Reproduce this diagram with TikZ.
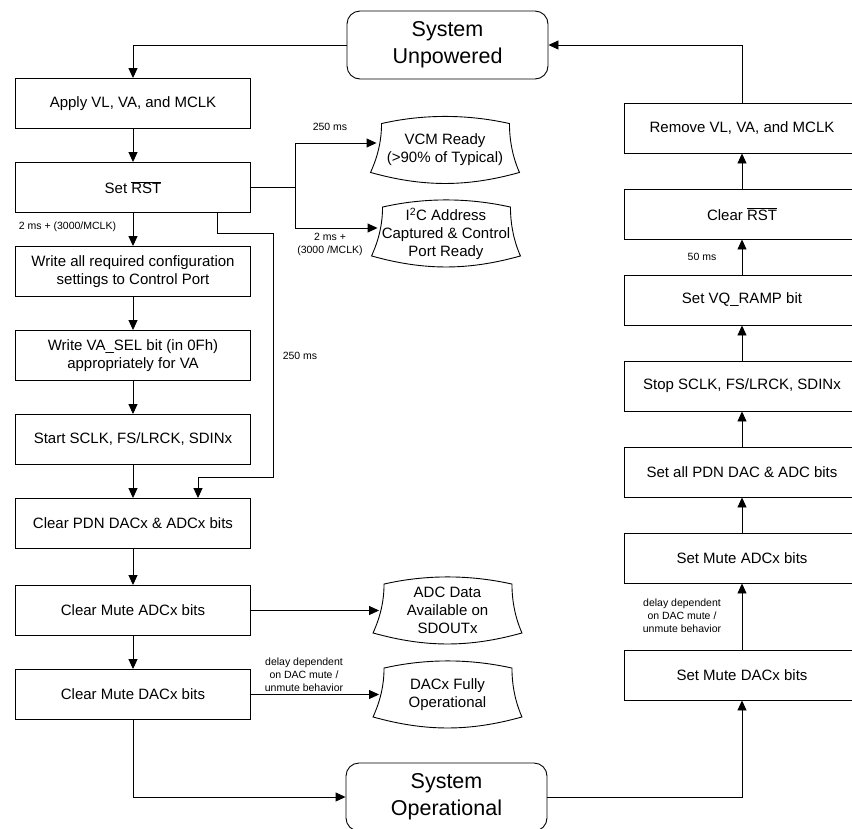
\documentclass[tikz,border=0pt]{standalone}
\usepackage{fontspec}
\setmainfont{Liberation Sans}
\usepackage{tikz}
\usetikzlibrary{shapes,arrows.meta,calc}
\tikzstyle{block}    = [rectangle,
                        draw,
                        align=center,
                        minimum width=235pt,
                        minimum height=50pt,
                        inner sep=2pt,
                        font=\fontsize{15}{18}\selectfont]
\tikzstyle{sysstate} = [rectangle,
                        draw,
                        rounded corners=13pt,
                        align=center,
                        minimum width=201pt,
                        minimum height=68pt,
                        font=\fontsize{21.5}{27}\selectfont]
\tikzstyle{outcome}  = [rectangle,
                        align=center,
                        minimum width=148pt,
                        minimum height=66pt,
                        inner sep=0pt,
                        font=\fontsize{15}{18}\selectfont]
\tikzstyle{note}     = [align=center,
                        inner sep=0pt,
                        font=\fontsize{10.5}{13}\selectfont]

\begin{document}
\begin{tikzpicture}[%
  x=1pt, y=-1pt,
  line width=0.9pt,
  >={Triangle[length=10pt,width=9pt]},
  node distance=84pt
  ]
  \useasboundingbox (0,0) rectangle (852,828);
  \clip (0,0) rectangle (852,828);

  % States:
  \node (unpowered) [sysstate] at (447.5,45) {System\\Unpowered};
  \node (operational) [sysstate] at (446.5,797) {System\\Operational};

  % Power-up sequence:
  \node (apply) [block] at (133,103.5) {Apply VL, VA, and MCLK};
  \node (setrst) [block, below of=apply] {Set $\overline{\mbox{RST}}$};
  \node (writecfg) [block, below of=setrst] {Write all required configuration\\settings to Control Port};
  \node (writesel) [block, below of=writecfg] {Write VA\_SEL bit (in 0Fh)\\appropriately for VA};
  \node (startclk) [block, below of=writesel] {Start SCLK, FS/LRCK, SDINx};
  \node (clrpdn) [block, below of=startclk] {Clear PDN DACx \& ADCx bits};
  \node (clrmadc) [block, below of=clrpdn, yshift=-3pt] {Clear Mute ADCx bits};
  \node (clrmdac) [block, below of=clrmadc] {Clear Mute DACx bits};

  % Power-down sequence:
  \begin{scope}[node distance=86pt]
    \node (remove) [block] at (742,128) {Remove VL, VA, and MCLK};
    \node (clrrst) [block, below of=remove] {Clear $\overline{\mbox{RST}}$};
    \node (setvq) [block, below of=clrrst] {Set VQ\_RAMP bit};
    \node (stopclk) [block, below of=setvq] {Stop SCLK, FS/LRCK, SDINx};
    \node (setpdn) [block, below of=stopclk] {Set all PDN DAC \& ADC bits};
    \node (setmadc) [block, below of=setpdn] {Set Mute ADCx bits};
    \node (setmdac) [block, below of=setmadc, node distance=117pt] {Set Mute DACx bits};
  \end{scope}

  % Outcomes:
  \node (vcm) [outcome] at (445,150) {VCM Ready\\(>90\% of Typical)};
  \node (i2c) [outcome] at (446,233.5) {I\textsuperscript{2}C Address\\Captured \& Control\\Port Ready};
  \node (adc) [outcome] at (447.5,610.5) {ADC Data\\Available on\\SDOUTx};
  \node (dac) [outcome] at (447.5,694.5) {DACx Fully\\Operational};

  \foreach \o in {vcm, i2c, adc, dac} {
    \draw ($(\o.north west)+(11,7)$)
      .. controls ($(\o.north)+(-22,-2.5)$) and ($(\o.north)+(22,-2.5)$) .. ($(\o.north east)+(-10,7)$)
      .. controls ($(\o.north east)+(-10,30)$) and ($(\o.south east)+(-4,-20)$) .. ($(\o.south east)+(0,-11)$)
      .. controls ($(\o.south)+(22,3.7)$) and ($(\o.south)+(-22,3.7)$) .. ($(\o.south west)+(0,-11)$)
      .. controls ($(\o.south west)+(4,-20)$) and ($(\o.north west)+(11,30)$) .. cycle;
  }

  % Timing notes:
  \node (n250a) [note] at (330,127) {250 ms};
  \node (n2ms) [note] at (330,244.5) {2 ms +\\(3000 /MCLK)};
  \node (n2msleft) [note] at (67.5,227) {2 ms + (3000/MCLK)};
  \node (n250b) [note] at (300,356) {250 ms};
  \node (ndelayl) [note] at (304,675) {delay dependent\\on DAC mute /\\unmute behavior};
  \node (ndelayr) [note] at (682,616) {delay dependent\\on DAC mute /\\unmute behavior};
  \node (n50) [note] at (702,257) {50 ms};

  % Connectors:
  \coordinate (fork) at ($(setrst.east)+(44,0)$);
  \draw[->] (unpowered.west) -| (apply.north);
  \draw[->] (apply) -- (setrst);
  \draw[->] (setrst) -- (writecfg);
  \draw[->] (writecfg) -- (writesel);
  \draw[->] (writesel) -- (startclk);
  \draw[->] (startclk) -- (clrpdn);
  \draw[->] (clrpdn) -- (clrmadc);
  \draw[->] (clrmadc) -- (clrmdac);
  \draw (setrst.east) -- (fork);
  \draw[->] (fork) |- ([shift={(6,-7)}]vcm.west);
  \draw[->] (fork) |- ([shift={(6,-5.5)}]i2c.west);
  \draw[->] ([xshift=84pt]setrst.south) -- ++(0,20) -- ++(56,0) -- ++(0,244) -| ([xshift=65pt]clrpdn.north);
  \draw[->] (clrmadc.east) -- ([xshift=6pt]adc.west);
  \draw[->] (clrmdac.east) -- ([xshift=6pt]dac.west);
  \draw[->] (clrmdac.south) |- (operational.west);
  \draw[->] (operational.east) -| (setmdac.south);
  \draw[->] (setmdac) -- (setmadc);
  \draw[->] (setmadc) -- (setpdn);
  \draw[->] (setpdn) -- (stopclk);
  \draw[->] (stopclk) -- (setvq);
  \draw[->] (setvq) -- (clrrst);
  \draw[->] (clrrst) -- (remove);
  \draw[->] (remove.north) |- (unpowered.east);
\end{tikzpicture}
\end{document}
